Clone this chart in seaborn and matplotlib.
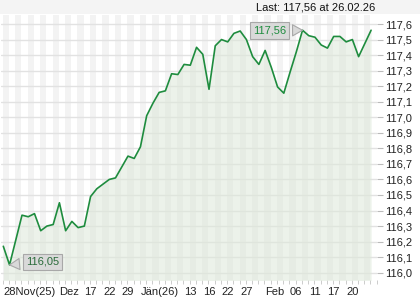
import numpy as np
import pandas as pd
import matplotlib
matplotlib.use("Agg")
import matplotlib.pyplot as plt
import seaborn as sns
from matplotlib.patches import Rectangle

# ---- data ----
values = [116.17, 116.05, 116.21, 116.37, 116.36, 116.38, 116.27, 116.30, 116.31, 116.45,
          116.27, 116.33, 116.29, 116.30, 116.49, 116.54, 116.57, 116.60, 116.61, 116.68,
          116.75, 116.735, 116.81, 117.01, 117.09, 117.16, 117.17, 117.28, 117.275, 117.34,
          117.335, 117.45, 117.405, 117.18, 117.46, 117.50, 117.485, 117.54, 117.555, 117.50,
          117.39, 117.34, 117.43, 117.32, 117.195, 117.155, 117.29, 117.42, 117.56, 117.525,
          117.515, 117.465, 117.445, 117.52, 117.52, 117.485, 117.50, 117.39, 117.475, 117.56]
tick_labels = ["28Nov(25)", "Dez", "17", "22", "29", "Jän(26)", "13", "16", "22", "27",
               "Feb", "06", "11", "17", "20"]
tick_days = [0, 9, 13, 16, 19, 22, 29, 32, 35, 38, 42, 46, 49, 52, 55]
y_ticks = [116.0 + 0.1 * i for i in range(17)]
max_label = "117,56"
min_label = "116,05"
header = "Last: 117,56 at 26.02.26"

df = pd.DataFrame({"day": np.arange(len(values)), "price": values})

sns.set_theme(style="white")
plt.rcParams["font.family"] = ["Liberation Sans", "DejaVu Sans"]

fig = plt.figure(figsize=(4.2, 3.0), dpi=100)
fig.patch.set_facecolor("white")
fig.patches.append(Rectangle((0, 1 - 14 / 300), 1, 14 / 300, transform=fig.transFigure,
                             facecolor="#f4f4f4", edgecolor="none", zorder=0))
ax = fig.add_axes([1 / 420, 20 / 300, 375.7 / 420, 265 / 300])
ax.set_facecolor("white")

xmin, xmax = -0.37, 59.55
ax.set_xlim(xmin, xmax)
ax.set_ylim(115.953, 117.658)

# stripes
for k in range(0, 31):
    ax.axvspan(2 * k - 0.1, 2 * k + 0.9, color="#f3f3f3", zorder=0, lw=0)
# horizontal grid
for yv in y_ticks:
    ax.axhline(yv, color="#e2e2e2", lw=1.0, zorder=0.5)

ax.fill_between(df["day"], df["price"], 115.9, color="#dde8d9", alpha=0.55, zorder=1, lw=0)
sns.lineplot(data=df, x="day", y="price", ax=ax, color="#1e8c3e", lw=1.2, zorder=3)

for s in ax.spines.values():
    s.set_visible(False)

ax.yaxis.tick_right()
ax.set_yticks(y_ticks)
ax.set_yticklabels([f"{v:.1f}".replace(".", ",") for v in y_ticks], fontsize=8, color="#222222")
ax.tick_params(axis="y", which="major", length=4, width=0.8, color="#bbbbbb", pad=2, right=True)

ax.set_xticks(tick_days)
ax.set_xticklabels(tick_labels, fontsize=8, color="#222222", ha="left")
ax.set_xticks([i - 0.1 for i in range(61)], minor=True)
ax.tick_params(axis="x", which="major", length=0, pad=5, bottom=True)
ax.tick_params(axis="x", which="minor", length=3, width=0.7, color="#cccccc", bottom=True)
ax.set_xlabel("")
ax.set_ylabel("")

# callouts
imax = int(np.argmax(values))
imin = int(np.argmin(values))
ax.annotate(max_label, xy=(imax, values[imax]), xytext=(42.7, 117.558),
            fontsize=8, color="#1e8c3e", ha="center", va="center", zorder=5,
            bbox=dict(boxstyle="square,pad=0.3", fc="#d9d9d9", ec="#a8a8a8", lw=0.8),
            arrowprops=dict(arrowstyle="wedge,tail_width=1.0,shrink_factor=0.5",
                            fc="#d9d9d9", ec="#a8a8a8", lw=0.8, shrinkB=0))
ax.annotate(min_label, xy=(imin, values[imin]), xytext=(6.3, 116.069),
            fontsize=8, color="#2a6b3a", ha="center", va="center", zorder=5,
            bbox=dict(boxstyle="square,pad=0.3", fc="#d9d9d9", ec="#a8a8a8", lw=0.8),
            arrowprops=dict(arrowstyle="wedge,tail_width=1.0,shrink_factor=0.5",
                            fc="#d9d9d9", ec="#a8a8a8", lw=0.8, shrinkB=0))

fig.text(375 / 420, 1 - 7.5 / 300, header, fontsize=8, color="#111111",
         ha="right", va="center")

fig.savefig("out.png", dpi=100, facecolor=fig.get_facecolor())
